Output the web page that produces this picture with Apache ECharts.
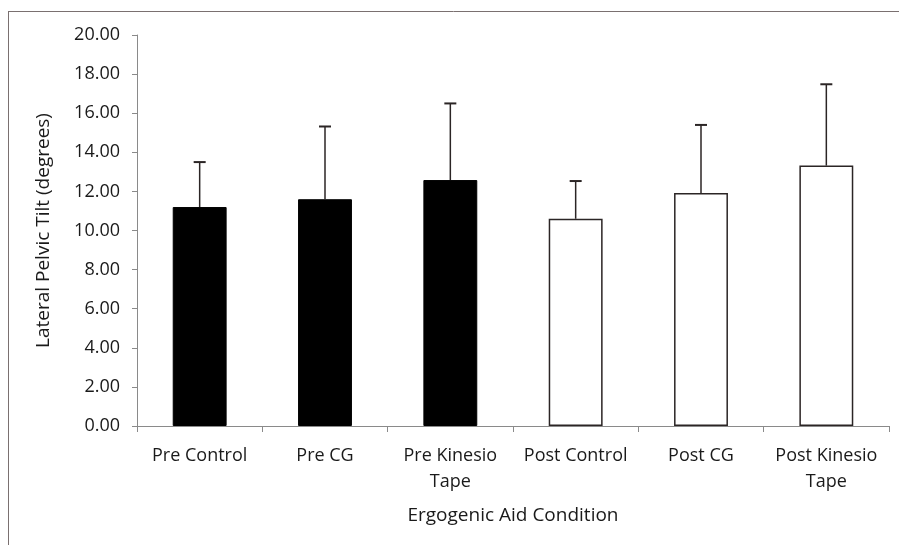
<!DOCTYPE html>
<html>
<head>
<meta charset="utf-8">
<script src="https://cdn.jsdelivr.net/npm/echarts@6/dist/echarts.min.js"></script>
<style>
html,body{margin:0;padding:0;background:#fff;}
#main{width:899px;height:545px;}
</style>
</head>
<body>
<div id="main"></div>
<script>
const categories = ['Pre Control', 'Pre CG', 'Pre Kinesio\nTape', 'Post Control', 'Post CG', 'Post Kinesio\nTape'];
const means = [11.20, 11.60, 12.58, 10.60, 11.92, 13.32];
const sds = [2.30, 3.72, 3.92, 1.93, 3.48, 4.16];
const isPre = [true, true, true, false, false, false];
const yTicks = { min: 0, max: 20, interval: 2 };

const FONT = '"Open Sans", "Noto Sans", sans-serif';
const chart = echarts.init(document.getElementById('main'));

const barData = means.map((v, i) => ({
  value: v,
  itemStyle: isPre[i]
    ? { color: '#000000', borderColor: '#000000', borderWidth: 1 }
    : { color: '#ffffff', borderColor: '#2b2525', borderWidth: 1.5 }
}));
const errData = means.map((v, i) => [i, v, v + sds[i]]);

chart.setOption({
  animation: false,
  backgroundColor: '#ffffff',
  grid: { left: 137, right: 10, top: 35, bottom: 119, containLabel: false },
  xAxis: {
    type: 'category',
    data: categories,
    name: 'Ergogenic Aid Condition',
    nameLocation: 'middle',
    nameGap: 80,
    nameTextStyle: { fontFamily: FONT, fontSize: 19, color: '#1a1a1a' },
    axisLine: { lineStyle: { color: '#8a8a8a', width: 1 } },
    axisTick: { show: true, alignWithLabel: false, length: 6, lineStyle: { color: '#8a8a8a' } },
    axisLabel: { fontFamily: FONT, fontSize: 18, color: '#1a1a1a', margin: 17, lineHeight: 26, interval: 0 }
  },
  yAxis: {
    type: 'value',
    min: yTicks.min, max: yTicks.max, interval: yTicks.interval,
    name: 'Lateral Pelvic Tilt (degrees)',
    nameLocation: 'middle',
    nameGap: 84,
    nameTextStyle: { fontFamily: FONT, fontSize: 19, color: '#1a1a1a' },
    axisLine: { show: true, lineStyle: { color: '#8a8a8a', width: 1 } },
    axisTick: { show: true, inside: false, length: 5, lineStyle: { color: '#8a8a8a' } },
    axisLabel: { fontFamily: FONT, fontSize: 18, color: '#1a1a1a', margin: 17, formatter: v => v.toFixed(2) },
    splitLine: { show: false }
  },
  series: [
    {
      type: 'bar',
      data: barData,
      barWidth: '43%'
    },
    {
      type: 'custom',
      data: errData,
      z: 5,
      renderItem: function (params, api) {
        const x = api.value(0);
        const lo = api.coord([x, api.value(1)]);
        const hi = api.coord([x, api.value(2)]);
        const style = { stroke: '#2b2525', lineWidth: 1.5 };
        return {
          type: 'group',
          children: [
            { type: 'line', shape: { x1: lo[0], y1: lo[1], x2: hi[0], y2: hi[1] }, style: style },
            { type: 'line', shape: { x1: hi[0] - 6, y1: hi[1], x2: hi[0] + 6, y2: hi[1] }, style: { stroke: '#2b2525', lineWidth: 2 } }
          ]
        };
      }
    }
  ],
  graphic: [
    { type: 'line', shape: { x1: 8, y1: 11.5, x2: 899, y2: 11.5 }, style: { stroke: '#7a7070', lineWidth: 1 } },
    { type: 'line', shape: { x1: 8.5, y1: 11, x2: 8.5, y2: 545 }, style: { stroke: '#7a7070', lineWidth: 1 } }
  ]
});
</script>
</body>
</html>
